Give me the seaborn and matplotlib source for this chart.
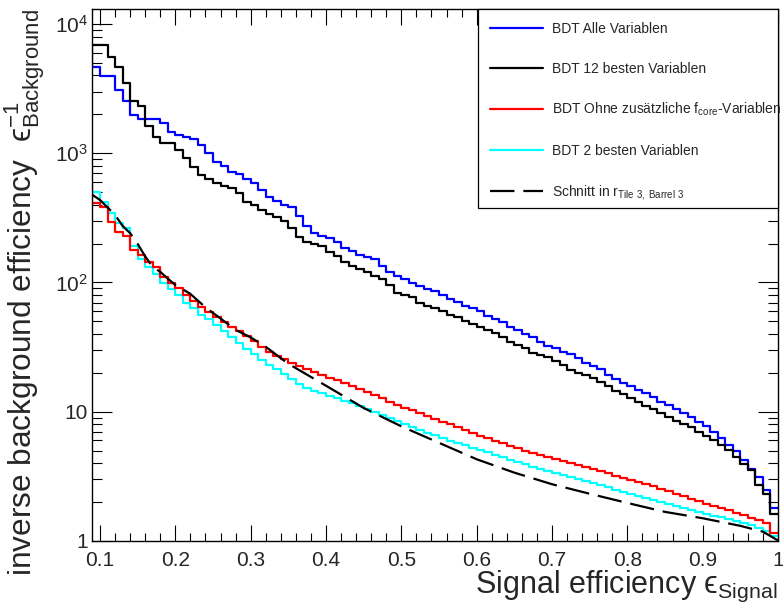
import numpy as np
import pandas as pd
import matplotlib
matplotlib.use("Agg")
import matplotlib.pyplot as plt
from matplotlib.patches import Rectangle
from matplotlib.ticker import FixedLocator, FixedFormatter, MultipleLocator, LogLocator, NullFormatter
import seaborn as sns

# ---------------- data ----------------
bin_edges = [round(0.08 + 0.01 * k, 2) for k in range(93)]   # 92 bins, 0.08 .. 1.00

bdt_alle = [6880, 4677, 3960, 3960, 3088, 2537, 1977, 1841, 1841, 1841,
            1725, 1469, 1385, 1330, 1283, 1159, 1000, 861, 797, 721,
            691, 629, 586, 520, 460, 430, 398, 382, 327, 274,
            243, 229, 220, 207, 184, 176, 163, 157, 151, 134,
            121, 112, 106, 99.8, 94.1, 89.5, 86.5, 80.2, 74.7, 71.2,
            65.9, 63.2, 60.7, 55.2, 52.0, 49.9, 45.6, 43.0, 40.0, 38.2,
            34.9, 32.3, 31.1, 29.2, 28.1, 26.0, 24.0, 22.6, 21.3, 19.4,
            17.9, 16.8, 15.9, 14.8, 13.9, 13.0, 12.0, 11.3, 10.5, 9.86,
            9.18, 8.40, 7.69, 6.91, 6.25, 5.55, 5.01, 4.25, 3.60, 3.12,
            2.49, 1.80]

bdt_12 = [6880, 6880, 6880, 5590, 4675, 3515, 2552, 2320, 1625, 1330,
          1208, 1208, 1060, 915, 788, 679, 629, 586, 561, 536,
          496, 422, 398, 366, 340, 320, 301, 263, 224, 207,
          199, 190, 173, 161, 143, 133, 127, 121, 112, 106,
          95.7, 83.5, 80.2, 77.8, 70.0, 65.5, 63.2, 60.7, 56.1, 53.9,
          50.7, 47.8, 45.1, 43.0, 40.5, 38.2, 34.9, 32.9, 31.1, 28.7,
          27.5, 26.4, 24.9, 23.1, 21.1, 20.1, 19.3, 18.2, 17.0, 15.9,
          14.6, 13.7, 12.7, 11.8, 11.1, 10.5, 9.75, 9.08, 8.55, 8.06,
          7.60, 6.91, 6.51, 6.07, 5.55, 5.07, 4.46, 3.95, 3.55, 2.72,
          2.32, 1.62]

bdt_ohne_fcore = [569, 411, 382, 296, 248, 229, 179, 163, 143, 131,
                  111, 99.8, 90.3, 80.2, 72.4, 64.4, 59.6, 53.9, 49.9, 45.6,
                  42.5, 38.6, 35.5, 31.9, 29.2, 27.0, 25.5, 23.9, 22.6, 21.3,
                  20.2, 19.3, 18.3, 17.5, 16.6, 15.7, 15.0, 14.3, 13.5, 12.8,
                  12.0, 11.3, 10.7, 10.3, 9.80, 9.29, 8.81, 8.35, 7.99, 7.64,
                  7.24, 6.87, 6.51, 6.23, 5.96, 5.70, 5.45, 5.21, 4.98, 4.77,
                  4.60, 4.44, 4.28, 4.13, 3.99, 3.85, 3.71, 3.62, 3.49, 3.34,
                  3.19, 3.08, 2.97, 2.87, 2.77, 2.65, 2.53, 2.42, 2.32, 2.22,
                  2.12, 2.03, 1.94, 1.87, 1.79, 1.73, 1.65, 1.59, 1.51, 1.45,
                  1.37, 1.16]

bdt_2 = [560, 505, 422, 344, 288, 263, 190, 151, 131, 117,
         99.8, 88.7, 80.2, 70.0, 63.2, 56.1, 52.0, 47.0, 42.5, 38.2,
         33.9, 30.5, 28.1, 25.2, 23.1, 21.3, 19.6, 17.9, 16.4, 15.4,
         14.6, 13.9, 13.3, 12.7, 12.1, 11.6, 11.1, 10.5, 9.98, 9.46,
         8.97, 8.50, 8.06, 7.64, 7.24, 6.87, 6.57, 6.23, 5.96, 5.70,
         5.50, 5.26, 5.07, 4.85, 4.64, 4.44, 4.25, 4.06, 3.92, 3.75,
         3.62, 3.49, 3.37, 3.25, 3.14, 3.03, 2.92, 2.82, 2.72, 2.60,
         2.49, 2.40, 2.30, 2.22, 2.14, 2.06, 1.99, 1.92, 1.86, 1.79,
         1.73, 1.67, 1.62, 1.57, 1.52, 1.47, 1.42, 1.37, 1.32, 1.26,
         1.20, 1.10]

cut_eff_signal = [0.09, 0.10, 0.11, 0.12, 0.13, 0.14, 0.15, 0.16, 0.17, 0.18,
                  0.19, 0.20, 0.22, 0.24, 0.26, 0.28, 0.30, 0.32, 0.35, 0.40,
                  0.45, 0.50, 0.55, 0.60, 0.65, 0.70, 0.75, 0.80, 0.85, 0.90,
                  0.95, 0.98, 1.00]
cut_inv_bkg = [476, 435, 381, 333, 274, 241, 199, 159, 132, 121,
               107, 95.8, 81.6, 64.2, 52.7, 43.0, 37.6, 31.8, 23.5, 15.9,
               10.7, 7.71, 5.75, 4.29, 3.38, 2.75, 2.32, 1.97, 1.68, 1.50,
               1.31, 1.18, 1.01]

series_names = ["BDT Alle Variablen",
                "BDT 12 besten Variablen",
                r"BDT Ohne zusätzliche f$_{\mathregular{core}}$-Variablen",
                "BDT 2 besten Variablen"]
cut_name = r"Schnitt in r$_{\mathregular{Tile\ 3,\ Barrel\ 3}}$"
series_colors = ["#0000ff", "#000000", "#ff0000", "#00ffff"]

x_ticks = [0.1, 0.2, 0.3, 0.4, 0.5, 0.6, 0.7, 0.8, 0.9, 1.0]
x_tick_labels = ["0.1", "0.2", "0.3", "0.4", "0.5", "0.6", "0.7", "0.8", "0.9", "1"]
y_ticks = [1, 10, 100, 1000, 10000]
y_tick_labels = ["1", "10", r"$\mathregular{10^{2}}$", r"$\mathregular{10^{3}}$", r"$\mathregular{10^{4}}$"]

# ---------------- style ----------------
sns.set_theme(style="white")
plt.rcParams["font.family"] = ["Liberation Sans", "DejaVu Sans"]
plt.rcParams["mathtext.fontset"] = "custom"
plt.rcParams["mathtext.rm"] = "Liberation Sans"
plt.rcParams["mathtext.it"] = "Liberation Sans:italic"
plt.rcParams["mathtext.bf"] = "Liberation Sans:bold"

fig = plt.figure(figsize=(7.83, 6.09), dpi=100)
ax = fig.add_axes([92 / 783, 68 / 609, 686 / 783, 532 / 609])

centers = [round((bin_edges[k] + bin_edges[k + 1]) / 2, 3) for k in range(len(bin_edges) - 1)]
plot_order = [0, 1, 3, 2]
all_series = [bdt_alle, bdt_12, bdt_ohne_fcore, bdt_2]
handles = {}
for i in plot_order:
    df = pd.DataFrame({"eff": centers, "w": all_series[i]})
    sns.histplot(data=df, x="eff", weights="w", bins=bin_edges, element="step",
                 fill=False, color=series_colors[i], linewidth=1.6, ax=ax)
    handles[i] = ax.lines[-1]

cut_df = pd.DataFrame({"eff": cut_eff_signal, "inv": cut_inv_bkg})
sns.lineplot(data=cut_df, x="eff", y="inv", color="black", linewidth=1.6, ax=ax, sort=True)
cut_line = ax.lines[-1]
cut_line.set_dashes((11, 4))

ax.set_yscale("log")
ax.set_xlim(0.0894, 1.0)
ax.set_ylim(1, 13060)

# ticks
ax.xaxis.set_major_locator(FixedLocator(x_ticks))
ax.xaxis.set_major_formatter(FixedFormatter(x_tick_labels))
ax.xaxis.set_minor_locator(MultipleLocator(0.02))
ax.yaxis.set_major_locator(FixedLocator(y_ticks))
ax.yaxis.set_major_formatter(FixedFormatter(y_tick_labels))
ax.yaxis.set_minor_locator(LogLocator(base=10, subs=np.arange(2, 10)))
ax.yaxis.set_minor_formatter(NullFormatter())

ax.tick_params(axis="both", which="both", direction="in", top=True, right=True,
               bottom=True, left=True, width=0.8, color="black")
ax.tick_params(axis="x", which="major", length=11.5, pad=7, labelsize=15)
ax.tick_params(axis="x", which="minor", length=5.8)
ax.tick_params(axis="y", which="major", length=14.4, pad=3, labelsize=15)
ax.tick_params(axis="y", which="minor", length=7.2)
for sp in ax.spines.values():
    sp.set_color("black")
    sp.set_linewidth(1.0)

# axis titles (lunate epsilon as in ROOT's #epsilon)
ax.set_xlabel("Signal efficiency ϵ$_{\\mathregular{Signal}}$", fontsize=22, loc="right")
ax.xaxis.set_label_coords(1.0, -0.053)
ax.set_ylabel("inverse background efficiency  ϵ$^{\\mathregular{-1}}_{\\mathregular{Background}}$",
              fontsize=22.8, loc="top")
ax.yaxis.set_label_coords(-0.066, 1.0)

# legend
ax.add_patch(Rectangle((0.5627, 0.626), 0.4373, 0.374, transform=ax.transAxes,
                       facecolor="white", edgecolor="black", linewidth=0.9,
                       zorder=4, clip_on=False))
leg_handles = [handles[0], handles[1], handles[2], handles[3], cut_line]
leg_labels = series_names + [cut_name]
leg = ax.legend(leg_handles, leg_labels, loc="upper left", bbox_to_anchor=(0.580, 0.975),
                frameon=False, fontsize=10, handlelength=3.8, handletextpad=0.7,
                labelspacing=1.82, borderpad=0, borderaxespad=0)
leg.set_zorder(5)

fig.savefig("out.png", dpi=100)
